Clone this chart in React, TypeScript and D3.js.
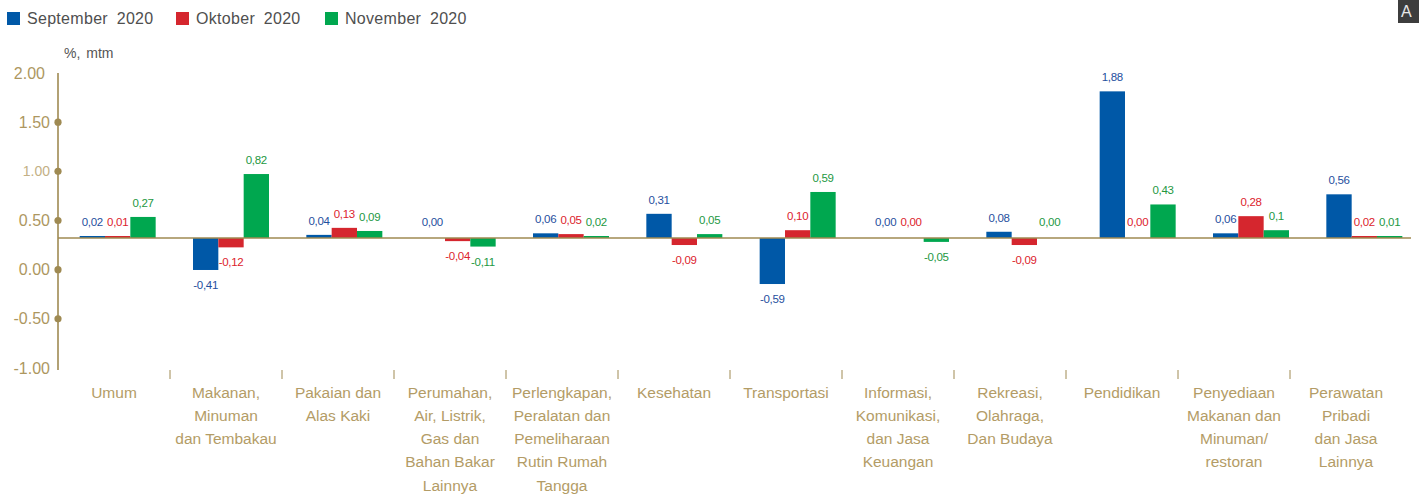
import * as d3 from 'd3';

// kategori pengeluaran (baris label dipisah dengan \n)
const categories = [
  'Umum',
  'Makanan,\nMinuman\ndan Tembakau',
  'Pakaian dan\nAlas Kaki',
  'Perumahan,\nAir, Listrik,\nGas dan\nBahan Bakar\nLainnya',
  'Perlengkapan,\nPeralatan  dan\nPemeliharaan\nRutin Rumah\nTangga',
  'Kesehatan',
  'Transportasi',
  'Informasi,\nKomunikasi,\ndan Jasa\nKeuangan',
  'Rekreasi,\nOlahraga,\nDan Budaya',
  'Pendidikan',
  'Penyediaan\nMakanan dan\nMinuman/\nrestoran',
  'Perawatan\nPribadi\ndan Jasa\nLainnya',
];

const series = ['September 2020', 'Oktober 2020', 'November 2020'];
const colors = ['#0058a7', '#d5262e', '#00a74f'];
const labelColors = ['#1f4f9e', '#dc222c', '#23983f'];

// nilai seperti tertulis di grafik (%, mtm)
const sepLabels = ['0,02', '-0,41', '0,04', '0,00', '0,06', '0,31', '-0,59', '0,00', '0,08', '1,88', '0,06', '0,56'];
const oktLabels = ['0,01', '-0,12', '0,13', '-0,04', '0,05', '-0,09', '0,10', '0,00', '-0,09', '0,00', '0,28', '0,02'];
const novLabels = ['0,27', '0,82', '0,09', '-0,11', '0,02', '0,05', '0,59', '-0,05', '0,00', '0,43', '0,1', '0,01'];

const yTicks = [2, 1.5, 1, 0.5, 0, -0.5, -1];

const W = 1419;
const H = 498;
const axisColor = '#9f8a52';
const catColor = '#b39c66';

const toNum = (s: string) => +s.replace(',', '.');

export default function App() {
  const allLabels = [sepLabels, oktLabels, novLabels];

  // skala label kategori & sumbu
  const x = d3.scaleBand().domain(categories).range([58, 1402]);
  // skala batang (sedikit bergeser dari label, seperti aslinya)
  const xBar = d3.scaleBand().domain(categories).range([61, 1421]);
  const xSub = d3.scaleBand().domain(series).range([0, 76]);
  const yAxis = d3.scaleLinear().domain([-1, 2]).range([368, 73]);
  const yBar = d3.scaleLinear().domain([-1, 2]).range([316, 82]);
  const y0 = yBar(0);

  const fmt = (t: number) => d3.format('.2f')(t).replace('−', '-');

  const bars: any[] = [];
  categories.forEach((cat, i) => {
    series.forEach((s, j) => {
      const label = allLabels[j][i];
      const v = toNum(label);
      const raw = Math.abs(yBar(v) - y0);
      const h = v === 0 ? 0 : Math.max(2, raw);
      const bx = (xBar(cat) as number) + (xBar.bandwidth() - 76) / 2 + (xSub(s) as number);
      bars.push({ key: `${i}-${j}`, j, v, label, h, bx, bw: xSub.bandwidth() });
    });
  });

  return (
    <div style={{ position: 'absolute', left: 0, top: 0 }}>
      <svg width={W} height={H} style={{ display: 'block', fontFamily: 'Arial, "Liberation Sans", sans-serif' }}>
        <rect width={W} height={H} fill="#fff" />

        {/* legenda */}
        {series.map((s, j) => {
          const lx = [7, 176, 325][j];
          return (
            <g key={s} transform={`translate(${lx},12)`}>
              <rect width={13} height={13} fill={colors[j]} />
              <text x={20} y={6.5} dominantBaseline="central" fontSize={16} fill="#4f4f4f" wordSpacing={4} letterSpacing={0.3}>
                {s}
              </text>
            </g>
          );
        })}

        <text x={64} y={53} dominantBaseline="central" fontSize={14} fill="#555" wordSpacing={2}>
          %, mtm
        </text>

        {/* sumbu Y */}
        <line x1={58} x2={58} y1={73} y2={370} stroke={axisColor} strokeWidth={1.6} />
        {yTicks.map((t) => (
          <g key={t}>
            {t > -1 && t < 2 && <circle cx={58} cy={yAxis(t)} r={3.6} fill={axisColor} />}
            <text
              x={t === 2 ? 45 : 50}
              y={yAxis(t)}
              textAnchor="end"
              dominantBaseline="central"
              fontSize={t === 1 ? 14 : 16}
              fill={t === 1 ? '#c3b085' : '#ad975f'}
            >
              {fmt(t)}
            </text>
          </g>
        ))}

        {/* batang */}
        {bars.map((b) =>
          b.v === 0 ? null : (
            <rect
              key={b.key}
              x={b.bx}
              y={b.v > 0 ? y0 - b.h : y0}
              width={b.bw}
              height={b.h}
              fill={colors[b.j]}
            />
          )
        )}

        {/* garis nol */}
        <line x1={58} x2={1411} y1={y0} y2={y0} stroke={axisColor} strokeWidth={1.6} />

        {/* label nilai */}
        {bars.map((b) => {
          const cx = b.bx + b.bw / 2;
          const cy = b.v >= 0 ? y0 - Math.max(2, b.h) - 14 : y0 + b.h + 15;
          return (
            <text
              key={'l' + b.key}
              x={cx}
              y={cy}
              textAnchor="middle"
              dominantBaseline="central"
              fontSize={11.5}
              letterSpacing={-0.3}
              fill={labelColors[b.j]}
            >
              {b.label}
            </text>
          );
        })}

        {/* tick kategori */}
        {categories.slice(1).map((cat) => (
          <line key={'t' + cat} x1={x(cat)} x2={x(cat)} y1={370} y2={379} stroke={axisColor} strokeWidth={1} />
        ))}

        {/* label kategori */}
        {categories.map((cat) => {
          const cx = (x(cat) as number) + x.bandwidth() / 2;
          return (
            <text key={'c' + cat} textAnchor="middle" fontSize={15.5} fill={catColor}>
              {cat.split('\n').map((line, k) => (
                <tspan key={k} x={cx} y={392 + k * 23.3} dominantBaseline="central">
                  {line}
                </tspan>
              ))}
            </text>
          );
        })}

        {/* tombol di pojok kanan atas */}
        <rect x={1398} y={0} width={21} height={23} fill="#3d3d3d" />
        <text x={1401} y={17} fontSize={16} fill="#e8e8e8">
          A
        </text>
      </svg>
    </div>
  );
}
